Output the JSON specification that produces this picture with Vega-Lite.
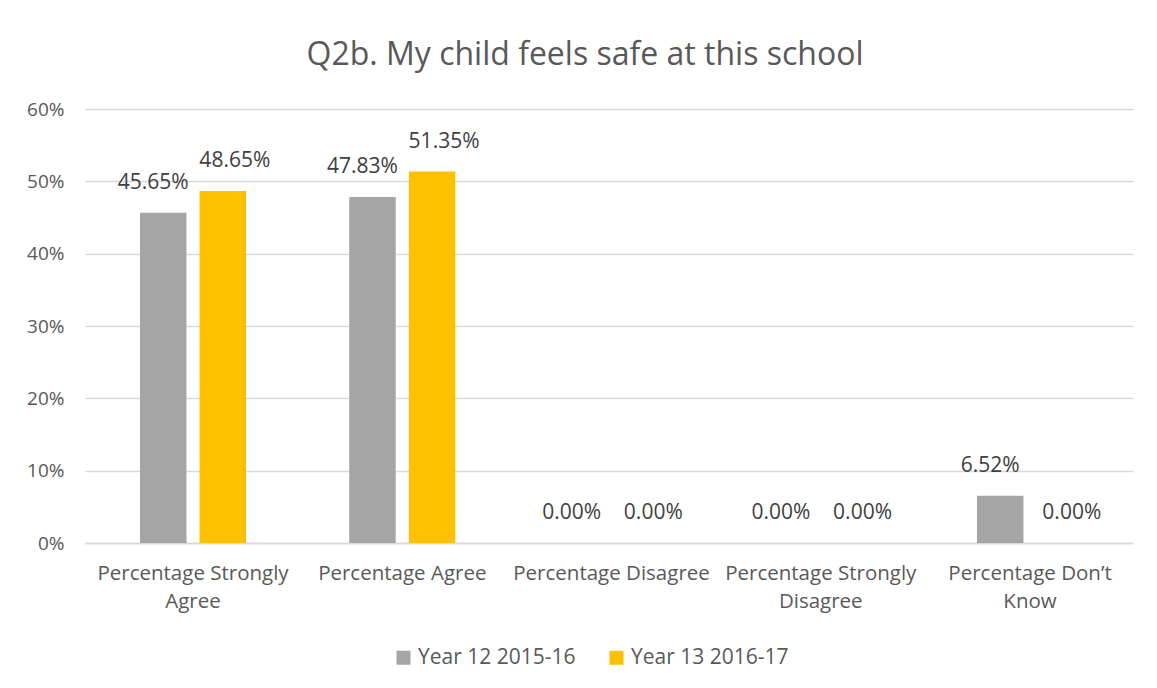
{
  "$schema": "https://vega.github.io/schema/vega-lite/v6.json",
  "autosize": "none",
  "width": 1048,
  "height": 434,
  "padding": {"left": 85, "top": 109, "right": 24, "bottom": 145},
  "background": "white",
  "title": {
    "text": "Q2b. My child feels safe at this school",
    "font": "Open Sans",
    "fontSize": 32,
    "fontWeight": "normal",
    "color": "#595959",
    "anchor": "middle",
    "dx": -24,
    "offset": 28
  },
  "data": {
    "values": [
      {"category": "Percentage Strongly Agree", "series": "Year 12 2015-16", "value": 0.4565},
      {"category": "Percentage Strongly Agree", "series": "Year 13 2016-17", "value": 0.4865},
      {"category": "Percentage Agree", "series": "Year 12 2015-16", "value": 0.4783},
      {"category": "Percentage Agree", "series": "Year 13 2016-17", "value": 0.5135},
      {"category": "Percentage Disagree", "series": "Year 12 2015-16", "value": 0.0},
      {"category": "Percentage Disagree", "series": "Year 13 2016-17", "value": 0.0},
      {"category": "Percentage Strongly Disagree", "series": "Year 12 2015-16", "value": 0.0},
      {"category": "Percentage Strongly Disagree", "series": "Year 13 2016-17", "value": 0.0},
      {"category": "Percentage Don’t Know", "series": "Year 12 2015-16", "value": 0.0652},
      {"category": "Percentage Don’t Know", "series": "Year 13 2016-17", "value": 0.0}
    ]
  },
  "encoding": {
    "x": {
      "field": "category",
      "type": "nominal",
      "sort": null,
      "title": null,
      "scale": {"paddingInner": 0.493, "paddingOuter": 0.2507, "align": 0.524},
      "axis": {
        "labelAngle": 0,
        "labelFont": "Open Sans",
        "labelFontSize": 20.5,
        "labelColor": "#595959",
        "labelPadding": 20,
        "labelLineHeight": 28,
        "labelLimit": 0,
        "ticks": false,
        "domainColor": "#d9d9d9",
        "domainWidth": 1.5,
        "labelExpr": "datum.label == 'Percentage Strongly Agree' ? ['Percentage Strongly', 'Agree'] : datum.label == 'Percentage Strongly Disagree' ? ['Percentage Strongly', 'Disagree'] : datum.label == 'Percentage Don’t Know' ? ['Percentage Don’t', 'Know'] : datum.label"
      }
    },
    "xOffset": {
      "field": "series",
      "type": "nominal",
      "scale": {"paddingInner": 0.22, "paddingOuter": 0}
    },
    "y": {
      "field": "value",
      "type": "quantitative",
      "title": null,
      "scale": {"domain": [0, 0.6]},
      "axis": {
        "format": ".0%",
        "values": [0, 0.1, 0.2, 0.3, 0.4, 0.5, 0.6],
        "labelFont": "Open Sans",
        "labelFontSize": 19,
        "labelColor": "#595959",
        "labelPadding": 21,
        "ticks": false,
        "domain": false,
        "gridColor": "#d9d9d9",
        "gridWidth": 1.5
      }
    }
  },
  "layer": [
    {
      "mark": {"type": "bar"},
      "encoding": {
        "color": {
          "field": "series",
          "type": "nominal",
          "scale": {"domain": ["Year 12 2015-16", "Year 13 2016-17"], "range": ["#A5A5A5", "#FFC000"]},
          "legend": {
            "title": null,
            "orient": "none",
            "direction": "horizontal",
            "legendX": 308,
            "legendY": 538,
            "symbolType": "square",
            "symbolSize": 196,
            "symbolStrokeWidth": 0,
            "labelFont": "Open Sans",
            "labelFontSize": 21,
            "labelColor": "#595959",
            "columnPadding": 30,
            "labelOffset": 4
          }
        }
      }
    },
    {
      "transform": [{"filter": "datum.series == 'Year 12 2015-16'"}],
      "mark": {"type": "text", "font": "Open Sans", "fontSize": 21, "color": "#404040", "baseline": "bottom", "dy": -20, "dx": -10},
      "encoding": {
        "text": {"field": "value", "type": "quantitative", "format": ".2%"}
      }
    },
    {
      "transform": [{"filter": "datum.series == 'Year 13 2016-17'"}],
      "mark": {"type": "text", "font": "Open Sans", "fontSize": 21, "color": "#404040", "baseline": "bottom", "dy": -20, "dx": 12},
      "encoding": {
        "text": {"field": "value", "type": "quantitative", "format": ".2%"}
      }
    }
  ],
  "config": {
    "view": {"stroke": null}
  }
}
